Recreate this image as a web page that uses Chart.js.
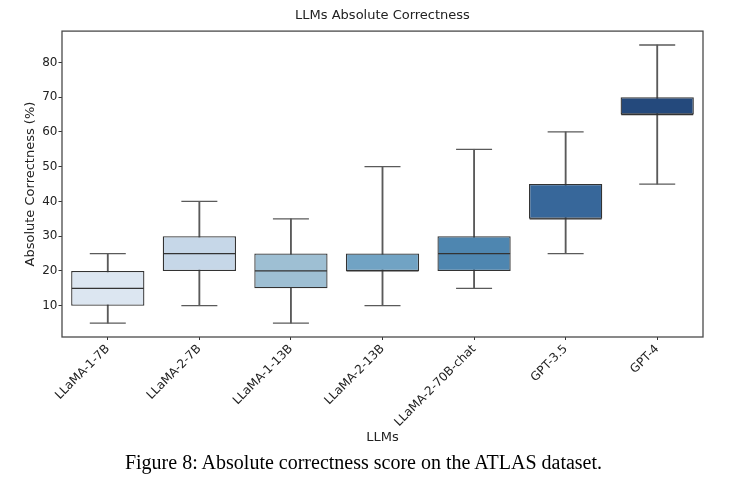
<!DOCTYPE html>
<html>
<head>
<meta charset="utf-8">
<script src="https://cdn.jsdelivr.net/npm/chart.js@4.4.1/dist/chart.umd.min.js"></script>
<style>
  html, body { margin: 0; padding: 0; background: #fff; }
  #wrap { position: relative; width: 751px; height: 479px; }
  #caption { position: absolute; left: 0; top: 449px; width: 727px; text-align: center;
    font-family: "Liberation Serif", serif; font-size: 20px; color: #000; line-height: 26px; }
</style>
</head>
<body>
<div id="wrap">
  <canvas id="c" width="751" height="479"></canvas>
  <div id="caption">Figure 8: Absolute correctness score on the ATLAS dataset.</div>
</div>
<script>
const categories = ['LLaMA-1-7B', 'LLaMA-2-7B', 'LLaMA-1-13B', 'LLaMA-2-13B', 'LLaMA-2-70B-chat', 'GPT-3.5', 'GPT-4'];
const mins    = [5, 10, 5, 10, 15, 25, 45];
const q1s     = [10, 20, 15, 20, 20, 35, 65];
const medians = [15, 25, 20, 20, 25, 35, 65];
const q3s     = [20, 30, 25, 25, 30, 45, 70];
const maxs    = [25, 40, 35, 50, 55, 60, 85];
const boxColors = ['#dce6f1', '#c6d7e8', '#9ebfd3', '#71a3c4', '#4e86b0', '#37679a', '#24497c'];
const yTicks = [10, 20, 30, 40, 50, 60, 70, 80];

const frame = {
  id: 'frame',
  afterDatasetsDraw(chart) {
    const a = chart.chartArea, ctx = chart.ctx;
    ctx.save();
    ctx.strokeStyle = '#4a4a4a';
    ctx.lineWidth = 1.3;
    ctx.strokeRect(a.left, a.top, a.right - a.left, a.bottom - a.top);
    ctx.restore();
  }
};

const tickFont = { family: 'DejaVu Sans', size: 12 };
const titleFont = { family: 'DejaVu Sans', size: 13 };

new Chart(document.getElementById('c'), {
  data: {
    labels: categories,
    datasets: [
      { type: 'line', label: 'median', data: medians, showLine: false, pointStyle: 'line',
        pointRadius: 36, pointBorderWidth: 1.3, pointBorderColor: '#333', order: 1 },
      { type: 'bar', label: 'box', data: categories.map((c, i) => [q1s[i], q3s[i]]),
        backgroundColor: boxColors, borderColor: '#333', borderWidth: 1.3, borderSkipped: false,
        barPercentage: 0.8, categoryPercentage: 1, grouped: false, order: 2 },
      { type: 'line', label: 'max cap', data: maxs, showLine: false, pointStyle: 'line',
        pointRadius: 18, pointBorderWidth: 1.3, pointBorderColor: '#5a5a5a', order: 3 },
      { type: 'line', label: 'min cap', data: mins, showLine: false, pointStyle: 'line',
        pointRadius: 18, pointBorderWidth: 1.3, pointBorderColor: '#5a5a5a', order: 3 },
      { type: 'bar', label: 'whisker', data: categories.map((c, i) => [mins[i], maxs[i]]),
        backgroundColor: '#5a5a5a', borderWidth: 0, barThickness: 1.2, grouped: false, order: 4 }
    ]
  },
  options: {
    responsive: false,
    animation: false,
    events: [],
    layout: { autoPadding: false, padding: { left: 22, right: 48, top: 0, bottom: 28.4 } },
    plugins: {
      legend: { display: false },
      tooltip: { enabled: false },
      title: { display: true, text: 'LLMs Absolute Correctness', fullSize: false, color: '#222',
        font: { family: 'DejaVu Sans', size: 13, weight: 'normal' }, padding: { top: 7.5, bottom: 8 } }
    },
    scales: {
      x: {
        type: 'category',
        offset: true,
        border: { display: false },
        grid: { display: true, drawOnChartArea: false, drawTicks: true, tickLength: 3, tickColor: '#333', offset: false },
        ticks: { font: tickFont, color: '#222', minRotation: 45, maxRotation: 45, padding: 2, autoSkip: false },
        title: { display: true, text: 'LLMs', font: titleFont, color: '#222', padding: { top: 2, bottom: 5.6 } },
        afterFit(s) { s.height = 113.6; }
      },
      y: {
        type: 'linear',
        min: 1, max: 89,
        border: { display: false },
        grid: { display: true, drawOnChartArea: false, drawTicks: true, tickLength: 3.5, tickColor: '#333' },
        ticks: { font: tickFont, color: '#222', padding: 1 },
        afterBuildTicks(s) { s.ticks = yTicks.map(v => ({ value: v })); },
        title: { display: true, text: 'Absolute Correctness (%)', font: titleFont, color: '#222', padding: { top: 1, bottom: 2 } },
        afterFit(s) { s.width = 40; s.paddingTop = 0; s.paddingBottom = 0; }
      }
    }
  },
  plugins: [frame]
});
</script>
</body>
</html>
